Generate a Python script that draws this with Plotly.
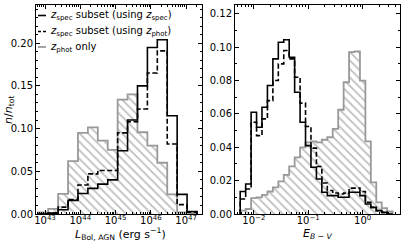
import numpy as np
import plotly.graph_objects as go

# ---------------- data ----------------
# Left panel: log10 L_Bol,AGN histogram (bin width ~0.281 dex)
lum_edge_start = 42.81
lum_bin_width = 0.281
lum_spec_using_spec = [0.000, 0.001, 0.005, 0.016, 0.024, 0.030, 0.035, 0.040,
                       0.074, 0.110, 0.150, 0.195, 0.204, 0.115, 0.023, 0.003]
lum_spec_using_phot = [0.000, 0.001, 0.008, 0.017, 0.034, 0.047, 0.051, 0.051,
                       0.095, 0.108, 0.123, 0.165, 0.191, 0.082, 0.011, 0.002]
lum_phot_only = [0.002, 0.006, 0.0235, 0.062, 0.095, 0.1015, 0.086, 0.075,
                 0.134, 0.140, 0.0957, 0.080, 0.060, 0.023, 0.002, 0.001]

# Right panel: log10 E(B-V) histogram (bin width 0.1 dex)
ebv_edge_start = -2.25
ebv_bin_width = 0.1
ebv_spec_using_spec = [0.0135, 0.018, 0.061, 0.052, 0.064, 0.077, 0.093, 0.103,
                       0.1045, 0.094, 0.073, 0.055, 0.041, 0.028, 0.021, 0.013,
                       0.011, 0.011, 0.010, 0.010, 0.013, 0.013, 0.011, 0.006,
                       0.004, 0.002, 0.001, 0.000]
ebv_spec_using_phot = [0.009, 0.015, 0.055, 0.047, 0.057, 0.068, 0.080, 0.090,
                       0.098, 0.093, 0.082, 0.0665, 0.0525, 0.0395, 0.0285, 0.0186,
                       0.0141, 0.0126, 0.012, 0.0125, 0.0155, 0.0155, 0.0135, 0.007,
                       0.004, 0.002, 0.001, 0.000]
ebv_phot_only = [0.002, 0.003, 0.0095, 0.010, 0.0115, 0.0135, 0.016, 0.0195,
                 0.0235, 0.0285, 0.034, 0.040, 0.043, 0.0435, 0.043, 0.0445,
                 0.046, 0.051, 0.0625, 0.079, 0.097, 0.0975, 0.080, 0.0435,
                 0.019, 0.007, 0.0035, 0.0015]

lum_ticks = [43, 44, 45, 46, 47]
lum_ticklabels = ["10<sup>43</sup>", "10<sup>44</sup>", "10<sup>45</sup>",
                  "10<sup>46</sup>", "10<sup>47</sup>"]
ebv_ticks = [-2, -1, 0]
ebv_ticklabels = ["10<sup>−2</sup>", "10<sup>−1</sup>", "10<sup>0</sup>"]

legend_labels = ["<i>z</i><sub>spec</sub> subset (using <i>z</i><sub>spec</sub>)",
                 "<i>z</i><sub>spec</sub> subset (using <i>z</i><sub>phot</sub>)",
                 "<i>z</i><sub>phot</sub> only"]

# ---------------- helpers ----------------
W, H = 407, 244
FONT = "DejaVu Sans"
GRAY = "#999999"
HATCH = "#7a7a7a"


def step_xy(start, width, vals):
    edges = start + width * np.arange(len(vals) + 1)
    xs = [edges[0]] + list(edges[:-1]) + [edges[-1]]
    ys = [0.0] + list(vals) + [0.0]
    return xs, ys


def minor_log(lo, hi):
    out = []
    for n in range(int(np.floor(lo)) - 1, int(np.ceil(hi)) + 1):
        for k in range(2, 10):
            v = n + np.log10(k)
            if lo < v < hi:
                out.append(v)
    return out


fig = go.Figure()

panels = [
    ("x", "y", lum_edge_start, lum_bin_width, lum_phot_only, lum_spec_using_phot, lum_spec_using_spec),
    ("x2", "y2", ebv_edge_start, ebv_bin_width, ebv_phot_only, ebv_spec_using_phot, ebv_spec_using_spec),
]
for xa, ya, st, bw, gray_v, dash_v, solid_v in panels:
    xs, ys = step_xy(st, bw, gray_v)
    fig.add_trace(go.Scatter(x=xs, y=ys, xaxis=xa, yaxis=ya, mode="lines",
                             line=dict(color=GRAY, width=1.8, shape="hv"),
                             fill="tozeroy", fillcolor="rgba(0,0,0,0)",
                             fillpattern=dict(shape="\\", fgcolor=HATCH, bgcolor="rgba(0,0,0,0)",
                                              size=6, solidity=0.28),
                             showlegend=False, hoverinfo="skip"))
    xs, ys = step_xy(st, bw, solid_v)
    fig.add_trace(go.Scatter(x=xs, y=ys, xaxis=xa, yaxis=ya, mode="lines",
                             line=dict(color="black", width=1.6, shape="hv"),
                             showlegend=False, hoverinfo="skip"))
    xs, ys = step_xy(st, bw, dash_v)
    fig.add_trace(go.Scatter(x=xs, y=ys, xaxis=xa, yaxis=ya, mode="lines",
                             line=dict(color="black", width=1.6, shape="hv", dash="5px,2.5px"),
                             showlegend=False, hoverinfo="skip"))

ydom = [1 - 214 / H, 1 - 5 / H]
axis_common = dict(showline=True, linecolor="black", linewidth=1, mirror="ticks",
                   ticks="inside", ticklen=4, tickwidth=1, tickcolor="black",
                   showgrid=False, zeroline=False, automargin=False,
                   tickfont=dict(family=FONT, size=10, color="black"))

lum_range = [42.745, 47.448]
ebv_range = [-2.346, 0.686]

fig.update_layout(
    width=W, height=H, margin=dict(l=0, r=0, t=0, b=0),
    paper_bgcolor="white", plot_bgcolor="white",
    xaxis=dict(domain=[36 / W, 202 / W], range=lum_range, tickvals=lum_ticks, ticktext=lum_ticklabels,
               minor=dict(tickvals=minor_log(*lum_range), ticks="inside", ticklen=2, tickcolor="black"),
               ticklabelstandoff=-3, anchor="y", **axis_common),
    yaxis=dict(domain=ydom, range=[0, 0.2447], tickvals=[0, 0.05, 0.10, 0.15, 0.20],
               ticktext=["0.00", "0.05", "0.10", "0.15", "0.20"],
               minor=dict(dtick=0.01, ticks="inside", ticklen=2, tickcolor="black"),
               anchor="x", **axis_common),
    xaxis2=dict(domain=[235 / W, 400 / W], range=ebv_range, tickvals=ebv_ticks, ticktext=ebv_ticklabels,
                minor=dict(tickvals=minor_log(*ebv_range), ticks="inside", ticklen=2, tickcolor="black"),
                ticklabelstandoff=-3, anchor="y2", **axis_common),
    yaxis2=dict(domain=ydom, range=[0, 0.1253], tickvals=[0, 0.02, 0.04, 0.06, 0.08, 0.10, 0.12],
                ticktext=["0.00", "0.02", "0.04", "0.06", "0.08", "0.10", "0.12"],
                minor=dict(dtick=0.01, ticks="inside", ticklen=2, tickcolor="black"),
                anchor="x2", **axis_common),
)

# axis titles
fig.add_annotation(x=9 / W, y=1 - 110 / H, xref="paper", yref="paper", textangle=-90,
                   xanchor="center", yanchor="middle",
                   text="<i>n</i>/<i>n</i><sub>tot</sub>", showarrow=False,
                   font=dict(family=FONT, size=11, color="black"))
fig.add_annotation(x=120 / W, y=1 - 234 / H, xref="paper", yref="paper",
                   xanchor="center", yanchor="middle",
                   text="<i>L</i><sub>Bol, AGN</sub> (erg s<sup>−1</sup>)", showarrow=False,
                   font=dict(family=FONT, size=11, color="black"))
fig.add_annotation(x=318 / W, y=1 - 234 / H, xref="paper", yref="paper",
                   xanchor="center", yanchor="middle",
                   text="<i>E</i><sub><i>B</i> − <i>V</i></sub>", showarrow=False,
                   font=dict(family=FONT, size=11, color="black"))

# manual legend
leg_y = [15.5, 31.5, 47]
leg_styles = [dict(color="black", width=1.6, dash="solid"),
              dict(color="black", width=1.6, dash="3px,2px"),
              dict(color=GRAY, width=1.8, dash="solid")]
for yy, lab, st in zip(leg_y, legend_labels, leg_styles):
    fig.add_shape(type="line", xref="paper", yref="paper", x0=38 / W, x1=46 / W,
                  y0=1 - yy / H, y1=1 - yy / H, line=st)
    fig.add_annotation(x=48 / W, y=1 - yy / H, xref="paper", yref="paper", xanchor="left",
                       yanchor="middle", text=lab, showarrow=False,
                       font=dict(family=FONT, size=10, color="black"))

fig.write_html("out.html", config={"displayModeBar": False},
               post_script="document.body.style.margin='0';document.body.style.overflow='hidden';")
